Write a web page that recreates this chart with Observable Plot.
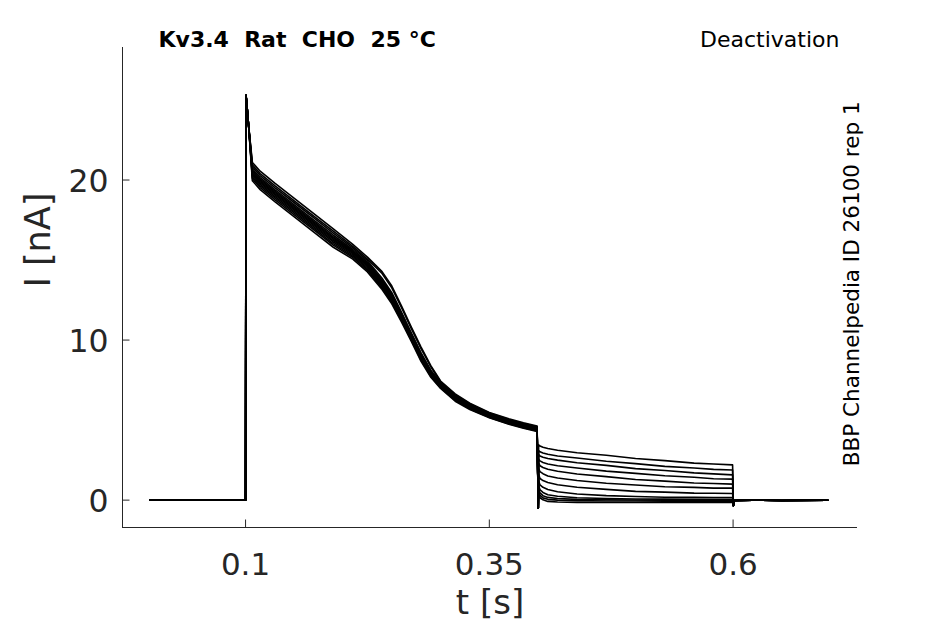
<!DOCTYPE html>
<html><head><meta charset="utf-8">
<script src="https://cdn.jsdelivr.net/npm/d3@7"></script>
<script src="https://cdn.jsdelivr.net/npm/@observablehq/plot@0.6"></script>
<style>body{margin:0;background:#fff} svg{display:block}</style>
</head><body><div id="chart"></div>
<script>
// ---- axes ----
const xTicks = [0.1, 0.35, 0.6];
const xTickLabels = ["0.1", "0.35", "0.6"];
const yTicks = [0, 10, 20];
const yTickLabels = ["0", "10", "20"];
const xDomain = [-0.0262, 0.7276];
const yDomain = [-1.71, 28.28];

// ---- common segments (all sweeps) ----
const holdTimes = [0.002, 0.05, 0.0999];
const holdValues = [0, 0, 0];
const peakTimes = [0.1, 0.1005, 0.1015, 0.103];
const peakValues = [0, 25.3, 24.6, 23.5];
const dipTimes = [0.4002];
const dipValues = [-0.5];
const endTimes = [0.6003, 0.6012, 0.62, 0.65, 0.697];
const endValues = [-0.35, -0.02, 0, -0.02, 0];

// ---- activation phase (per sweep) ----
const actTimes = [0.105, 0.107, 0.115, 0.13, 0.15, 0.17, 0.19, 0.21, 0.225, 0.24, 0.25, 0.26, 0.27, 0.28, 0.29, 0.30, 0.315, 0.33, 0.35, 0.37, 0.385, 0.399];
const act01 = [22.30, 21.10, 20.55, 19.80, 18.85, 17.90, 16.95, 15.98, 15.18, 14.28, 13.38, 12.12, 10.81, 9.56, 8.40, 7.44, 6.64, 6.06, 5.48, 5.08, 4.83, 4.63];
const act02 = [22.23, 20.95, 20.40, 19.65, 18.70, 17.75, 16.80, 15.86, 15.06, 14.16, 13.26, 12.02, 10.72, 9.47, 8.33, 7.38, 6.58, 6.01, 5.44, 5.04, 4.79, 4.59];
const act03 = [22.17, 20.83, 20.28, 19.53, 18.58, 17.63, 16.68, 15.76, 14.96, 13.86, 12.96, 11.73, 10.45, 9.20, 8.12, 7.33, 6.53, 5.97, 5.40, 5.00, 4.75, 4.55];
const act04 = [22.10, 20.70, 20.15, 19.40, 18.45, 17.50, 16.55, 15.66, 14.86, 13.76, 12.86, 11.64, 10.37, 9.12, 8.05, 7.28, 6.48, 5.92, 5.36, 4.96, 4.71, 4.51];
const act05 = [22.05, 20.60, 20.05, 19.30, 18.35, 17.40, 16.45, 15.58, 14.78, 13.68, 12.78, 11.57, 10.31, 9.06, 8.00, 7.24, 6.44, 5.89, 5.33, 4.93, 4.68, 4.48];
const act06 = [22.02, 20.53, 19.98, 19.23, 18.28, 17.33, 16.38, 15.52, 14.72, 13.62, 12.72, 11.52, 10.27, 9.02, 7.97, 7.21, 6.41, 5.86, 5.31, 4.91, 4.66, 4.46];
const act07 = [21.98, 20.45, 19.90, 19.15, 18.20, 17.25, 16.30, 15.46, 14.66, 13.56, 12.66, 11.47, 10.22, 8.97, 7.93, 7.18, 6.38, 5.83, 5.29, 4.89, 4.64, 4.44];
const act08 = [21.94, 20.37, 19.82, 19.07, 18.12, 17.17, 16.22, 15.40, 14.60, 13.50, 12.60, 11.41, 10.17, 8.92, 7.89, 7.15, 6.35, 5.80, 5.26, 4.86, 4.61, 4.41];
const act09 = [21.89, 20.28, 19.73, 18.98, 18.03, 17.08, 16.13, 15.32, 14.52, 13.42, 12.52, 11.35, 10.12, 8.87, 7.84, 7.11, 6.31, 5.77, 5.23, 4.83, 4.58, 4.38];
const act10 = [21.84, 20.18, 19.63, 18.88, 17.93, 16.98, 16.03, 15.24, 14.44, 13.34, 12.44, 11.28, 10.06, 8.81, 7.79, 7.07, 6.27, 5.74, 5.20, 4.80, 4.55, 4.35];
const act11 = [21.79, 20.08, 19.53, 18.78, 17.83, 16.88, 15.93, 15.16, 14.36, 13.26, 12.36, 11.21, 10.00, 8.75, 7.74, 7.03, 6.23, 5.70, 5.17, 4.77, 4.52, 4.32];
const act12 = [21.73, 19.95, 19.40, 18.65, 17.70, 16.75, 15.80, 15.06, 14.26, 13.16, 12.26, 11.12, 9.92, 8.67, 7.68, 6.98, 6.18, 5.66, 5.14, 4.74, 4.49, 4.29];

// ---- deactivation tails (per sweep) ----
const tailTimes = [0.4006, 0.402, 0.405, 0.41, 0.42, 0.44, 0.47, 0.50, 0.53, 0.56, 0.58, 0.5995];
const tail01 = [3.45, 3.38, 3.3, 3.23, 3.12, 2.96, 2.8, 2.6, 2.47, 2.31, 2.26, 2.2];
const tail02 = [3.1, 3.02, 2.95, 2.87, 2.76, 2.63, 2.43, 2.28, 2.11, 2.01, 1.92, 1.88];
const tail03 = [2.85, 2.76, 2.68, 2.6, 2.5, 2.34, 2.17, 1.97, 1.85, 1.7, 1.64, 1.58];
const tail04 = [2.55, 2.45, 2.35, 2.26, 2.15, 2.01, 1.81, 1.67, 1.52, 1.43, 1.34, 1.31];
const tail05 = [2.3, 2.15, 2.04, 1.93, 1.8, 1.63, 1.47, 1.29, 1.19, 1.07, 1.04, 1.0];
const tail06 = [1.95, 1.78, 1.65, 1.51, 1.38, 1.23, 1.05, 0.95, 0.84, 0.8, 0.75, 0.75];
const tail07 = [1.6, 1.35, 1.22, 1.1, 0.96, 0.8, 0.67, 0.55, 0.5, 0.44, 0.43, 0.41];
const tail08 = [1.2, 0.95, 0.8, 0.66, 0.52, 0.38, 0.28, 0.23, 0.18, 0.17, 0.16, 0.16];
const tail09 = [0.9, 0.65, 0.48, 0.34, 0.24, 0.15, 0.1, 0.07, 0.06, 0.05, 0.05, 0.05];
const tail10 = [0.7, 0.45, 0.28, 0.17, 0.1, 0.05, 0.02, 0.01, 0.0, 0.0, 0.0, 0.0];
const tail11 = [0.5, 0.3, 0.14, 0.05, 0.0, -0.03, -0.05, -0.05, -0.06, -0.06, -0.06, -0.06];
const tail12 = [0.35, 0.15, 0.02, -0.08, -0.12, -0.14, -0.15, -0.15, -0.15, -0.14, -0.14, -0.14];

const acts = [act05, act02, act09, act01, act11, act04, act07, act12, act03, act08, act06, act10];
const tails = [tail01, tail02, tail03, tail04, tail05, tail06, tail07, tail08, tail09, tail10, tail11, tail12];

const rows = [];
acts.forEach((a, k) => {
  const push = (ts, vs) => ts.forEach((t, i) => rows.push({sweep: k, t, I: vs[i]}));
  push(holdTimes, holdValues);
  push(peakTimes, peakValues);
  push(actTimes, a);
  push(dipTimes, dipValues);
  push(tailTimes, tails[k]);
  push(endTimes, endValues);
});

const axisColor = "#262626";
const font = "DejaVu Sans";
const W = 945, H = 624, mL = 122, mR = 88, mT = 47, mB = 97;
const innerW = W - mL - mR, innerH = H - mT - mB;

const chart = Plot.plot({
  width: W, height: H,
  marginLeft: mL, marginRight: mR, marginTop: mT, marginBottom: mB,
  style: {fontFamily: font, background: "#fff"},
  x: {domain: xDomain, axis: null},
  y: {domain: yDomain, axis: null},
  marks: [
    Plot.line(rows, {x: "t", y: "I", z: "sweep", stroke: "#000", strokeWidth: 1.6, strokeLinejoin: "round"}),
    Plot.ruleX([xDomain[0]], {stroke: axisColor, strokeWidth: 1}),
    Plot.ruleY([yDomain[0]], {stroke: axisColor, strokeWidth: 1}),
    Plot.tickX(xTicks, {x: d => d, insetTop: innerH - 7.5, stroke: axisColor}),
    Plot.tickY(yTicks, {y: d => d, insetRight: innerW - 7.5, stroke: axisColor}),
    Plot.text(xTicks, {x: d => d, text: (d, i) => xTickLabels[i], frameAnchor: "bottom", dy: 47.5, lineAnchor: "bottom", fontSize: 31, fill: axisColor}),
    Plot.text(yTicks, {y: d => d, text: (d, i) => yTickLabels[i], frameAnchor: "left", dx: -14, dy: 12, textAnchor: "end", lineAnchor: "bottom", fontSize: 31.5, fill: axisColor}),
    Plot.text(["t [s]"], {frameAnchor: "bottom", dy: 86, lineAnchor: "bottom", fontSize: 34, fill: axisColor}),
    Plot.text(["I [nA]"], {frameAnchor: "left", dx: -72.5, rotate: -90, lineAnchor: "bottom", fontSize: 35, fill: axisColor}),
    Plot.text(["Kv3.4\u00a0\u00a0Rat\u00a0\u00a0CHO\u00a0\u00a025\u00a0°C"], {frameAnchor: "top-left", dx: 36, dy: -1, lineAnchor: "bottom", textAnchor: "start", fontWeight: "bold", fontSize: 22, fill: "#000"}),
    Plot.text(["Deactivation"], {frameAnchor: "top-right", dx: -18, dy: -1, lineAnchor: "bottom", textAnchor: "end", fontSize: 22, fill: "#000"}),
    Plot.text(["BBP Channelpedia ID 26100 rep 1"], {frameAnchor: "bottom-right", dx: 1, dy: -61.3, rotate: -90, textAnchor: "start", lineAnchor: "bottom", fontSize: 21.5, fill: "#000"})
  ]
});
document.getElementById("chart").appendChild(chart);
</script>
</body></html>
